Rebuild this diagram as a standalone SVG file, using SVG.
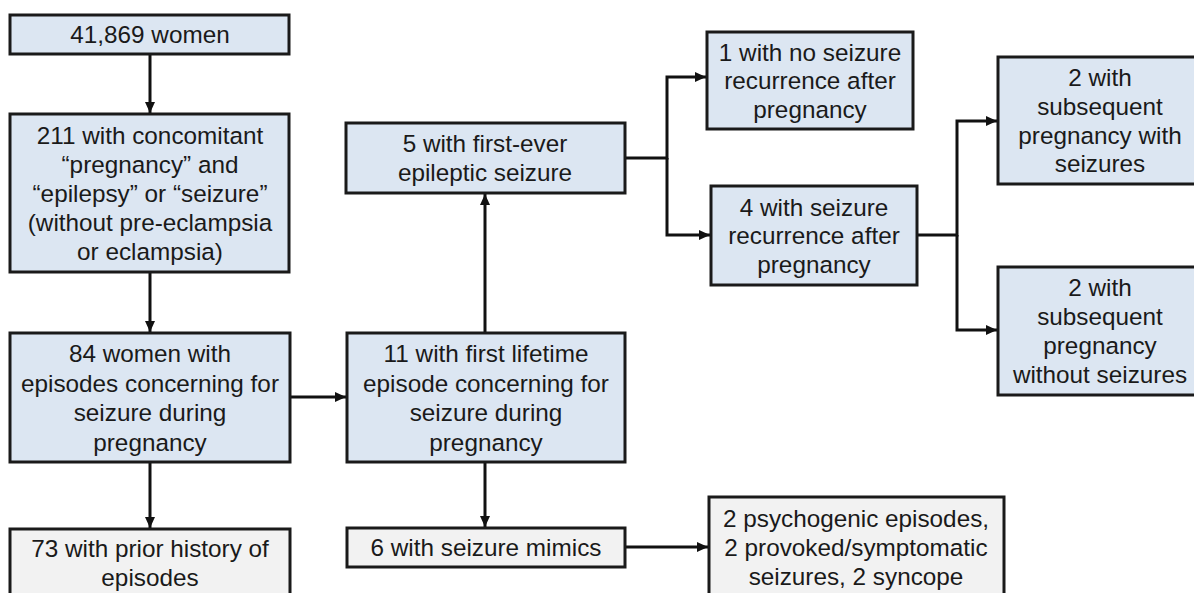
<svg xmlns="http://www.w3.org/2000/svg" width="1194" height="593" viewBox="0 0 1194 593">
<defs>
<style>
.b{fill:#dce6f2;stroke:#1a1a1a;stroke-width:3}
.g{fill:#f2f2f2;stroke:#1a1a1a;stroke-width:3}
text{font-family:"Liberation Sans",Arial,sans-serif;font-size:24.3px;fill:#1a1a1a;text-anchor:middle}
.c{fill:none;stroke:#111;stroke-width:3}
</style>
<marker id="ah" markerWidth="11" markerHeight="11" viewBox="0 0 11 11" refX="11" refY="5.5" orient="auto" markerUnits="userSpaceOnUse">
<path d="M0,0.5 L11,5.5 L0,10.5 Z" fill="#111"/>
</marker>
</defs>
<rect width="1194" height="593" fill="#fff"/>
<g id="connectors">
<path class="c" d="M150,54 V113" marker-end="url(#ah)"/>
<path class="c" d="M150,272 V332" marker-end="url(#ah)"/>
<path class="c" d="M150,462 V528" marker-end="url(#ah)"/>
<path class="c" d="M290,397 H346" marker-end="url(#ah)"/>
<path class="c" d="M485,333 V194" marker-end="url(#ah)"/>
<path class="c" d="M485,462 V527" marker-end="url(#ah)"/>
<path class="c" d="M625,547 H708" marker-end="url(#ah)"/>
<path class="c" d="M624,158 H667 V77 H706" marker-end="url(#ah)"/>
<path class="c" d="M667,158 V235 H710" marker-end="url(#ah)"/>
<path class="c" d="M917,235 H957 V121 H997" marker-end="url(#ah)"/>
<path class="c" d="M957,235 V330 H997" marker-end="url(#ah)"/>
</g>
<g id="n1"><rect class="b" x="10" y="15" width="279" height="39"/><text x="150" y="43">41,869 women</text></g>
<g id="n2"><rect class="b" x="10" y="114" width="279" height="158"/>
<text x="150" y="144">211 with concomitant</text>
<text x="150" y="173">“pregnancy” and</text>
<text x="150" y="202">“epilepsy” or “seizure”</text>
<text x="150" y="231">(without pre-eclampsia</text>
<text x="150" y="260">or eclampsia)</text></g>
<g id="n3"><rect class="b" x="10" y="333" width="280" height="129"/>
<text x="150" y="362">84 women with</text>
<text x="150" y="391.5">episodes concerning for</text>
<text x="150" y="421">seizure during</text>
<text x="150" y="450.5">pregnancy</text></g>
<g id="n4"><rect class="g" x="10" y="529" width="280" height="80"/>
<text x="150" y="557">73 with prior history of</text>
<text x="150" y="586">episodes</text></g>
<g id="n5"><rect class="b" x="346" y="123" width="279" height="70"/>
<text x="485" y="151.5">5 with first-ever</text>
<text x="485" y="180.5">epileptic seizure</text></g>
<g id="n6"><rect class="b" x="347" y="333" width="278" height="129"/>
<text x="486" y="362">11 with first lifetime</text>
<text x="486" y="391.5">episode concerning for</text>
<text x="486" y="421">seizure during</text>
<text x="486" y="450.5">pregnancy</text></g>
<g id="n7"><rect class="g" x="347" y="528" width="278" height="39"/>
<text x="486" y="556">6 with seizure mimics</text></g>
<g id="n8"><rect class="g" x="709" y="497" width="295" height="110"/>
<text x="856" y="526.5">2 psychogenic episodes,</text>
<text x="856" y="555.5">2 provoked/symptomatic</text>
<text x="856" y="584.5">seizures, 2 syncope</text></g>
<g id="n9"><rect class="b" x="707" y="32" width="206" height="97"/>
<text x="810" y="60.5">1 with no seizure</text>
<text x="810" y="89">recurrence after</text>
<text x="810" y="117.5">pregnancy</text></g>
<g id="n10"><rect class="b" x="711" y="186" width="206" height="99"/>
<text x="814" y="215.5">4 with seizure</text>
<text x="814" y="244">recurrence after</text>
<text x="814" y="273">pregnancy</text></g>
<g id="n11"><rect class="b" x="998" y="57" width="206" height="127"/>
<text x="1100" y="85.5">2 with</text>
<text x="1100" y="114.5">subsequent</text>
<text x="1100" y="143.5">pregnancy with</text>
<text x="1100" y="172">seizures</text></g>
<g id="n12"><rect class="b" x="998" y="267" width="206" height="128"/>
<text x="1100" y="296">2 with</text>
<text x="1100" y="325">subsequent</text>
<text x="1100" y="354">pregnancy</text>
<text x="1100" y="383">without seizures</text></g>
</svg>
